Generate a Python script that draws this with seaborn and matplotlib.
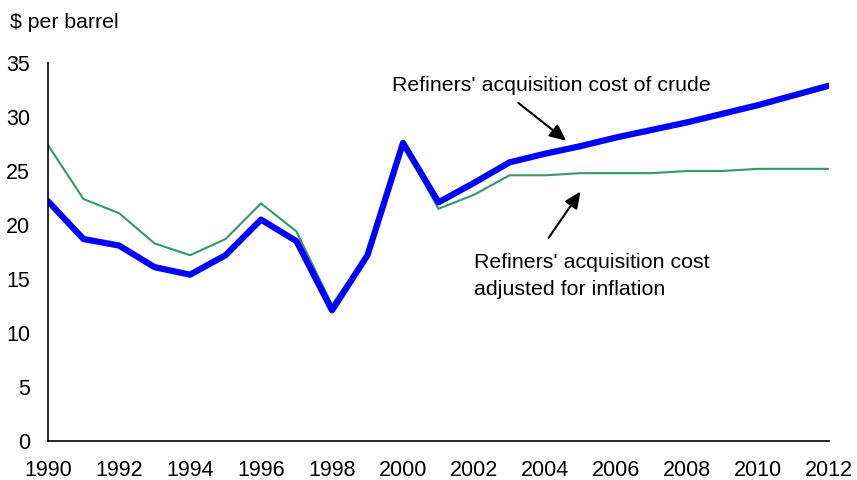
import matplotlib
matplotlib.use("Agg")
import matplotlib.pyplot as plt
import seaborn as sns
import pandas as pd

years = list(range(1990, 2013))
nominal = [22.2, 18.7, 18.1, 16.1, 15.4, 17.2, 20.5, 18.5, 12.1, 17.2, 27.6,
           22.1, 23.9, 25.8, 26.6, 27.3, 28.1, 28.8, 29.5, 30.3, 31.1, 32.0, 32.9]
real = [27.4, 22.4, 21.1, 18.3, 17.2, 18.7, 22.0, 19.4, 12.6, 17.4, 27.5,
        21.5, 22.8, 24.6, 24.6, 24.8, 24.8, 24.8, 25.0, 25.0, 25.2, 25.2, 25.2]
xticks = list(range(1990, 2013, 2))
yticks = list(range(0, 36, 5))

df = pd.DataFrame({"year": years, "nominal": nominal, "real": real})

sns.set_style("white")
plt.rcParams['font.family'] = ['Liberation Sans', 'DejaVu Sans']
plt.rcParams['text.color'] = 'black'

fig = plt.figure(figsize=(8.57, 4.8), dpi=100)
ax = fig.add_axes([48/857, 1-441/480, (829-48)/857, (441-63)/480])

sns.lineplot(data=df, x="year", y="real", ax=ax, color="#339966", lw=1.5)
sns.lineplot(data=df, x="year", y="nominal", ax=ax, color="#0000FF", lw=4.5,
             solid_capstyle="round", solid_joinstyle="round")

ax.set_xlim(1990, 2012)
ax.set_ylim(0, 35)
ax.set_xticks(xticks)
ax.set_yticks(yticks)
ax.set_xlabel("")
ax.set_ylabel("")
for s in ["top", "right"]:
    ax.spines[s].set_visible(False)
for s in ["left", "bottom"]:
    ax.spines[s].set_color("black")
    ax.spines[s].set_linewidth(1.2)
ax.tick_params(axis="both", direction="in", length=6, width=1.2, colors="black",
               labelsize=15.5)
ax.tick_params(axis="x", pad=14)
ax.tick_params(axis="y", pad=13)

fig.text(10/857, 1-22/480, "$ per barrel", fontsize=15.3, va="center", ha="left")

arrow = dict(arrowstyle="-|>,head_length=1.0,head_width=0.45", color="black", lw=1.5,
             shrinkA=0, shrinkB=0)
ax.text(1999.7, 32.9, "Refiners' acquisition cost of crude", fontsize=15.4,
        ha="left", va="center")
ax.annotate("", xy=(2004.6, 27.8), xytext=(2003.25, 31.3), arrowprops=arrow)
ax.annotate("", xy=(2005.0, 23.1), xytext=(2004.1, 18.8), arrowprops=arrow)
ax.text(2002.0, 15.3, "Refiners' acquisition cost\nadjusted for inflation", fontsize=15.4,
        ha="left", va="center", linespacing=1.5)

fig.savefig("out.png", dpi=100)
